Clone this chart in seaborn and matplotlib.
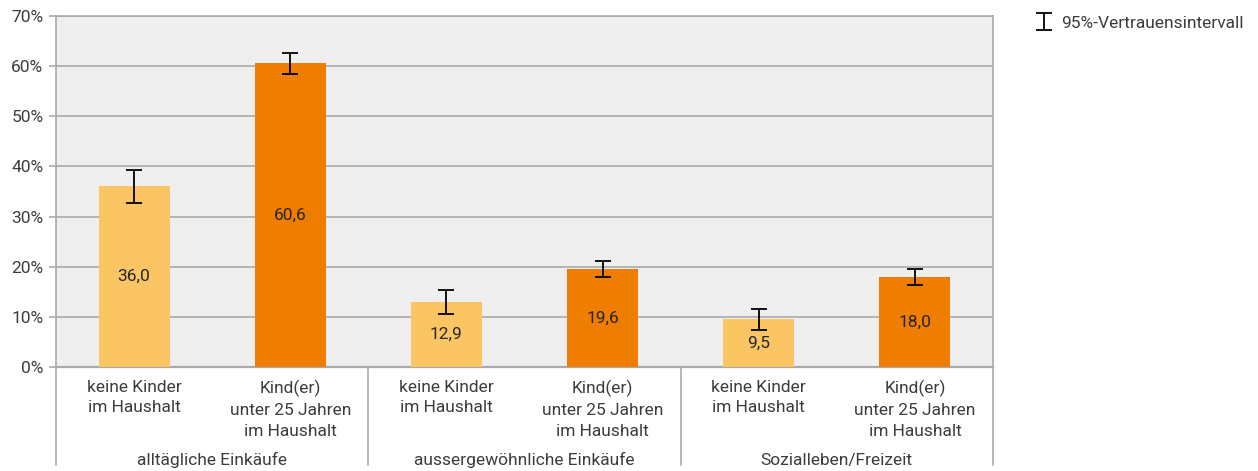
import numpy as np
import pandas as pd
import matplotlib
matplotlib.use("Agg")
import matplotlib.pyplot as plt
import matplotlib.transforms as mtransforms
import seaborn as sns

# ======================================
# DATEN
# ======================================
gruppen = ["alltägliche Einkäufe", "aussergewöhnliche Einkäufe", "Sozialleben/Freizeit"]
haushalt = ["keine Kinder\nim Haushalt", "Kind(er)\nunter 25 Jahren\nim Haushalt"]
werte = [36.0, 60.6, 12.9, 19.6, 9.5, 18.0]
ki_unten = [32.7, 58.5, 10.6, 17.9, 7.4, 16.4]
ki_oben = [39.3, 62.7, 15.4, 21.2, 11.6, 19.6]
farben = ["#FBC564", "#EE7D00"]

df = pd.DataFrame({
    "gruppe": np.repeat(gruppen, 2),
    "haushalt": haushalt * 3,
    "wert": werte,
    "lo": ki_unten,
    "hi": ki_oben,
})
df["key"] = df["gruppe"] + "|" + df["haushalt"]

# ======================================
# GRAFIK
# ======================================
sns.set_style("white")
plt.rcParams["font.family"] = ["Roboto", "DejaVu Sans"]

FS = 12.5
TXT = "#3C3C3C"

fig = plt.figure(figsize=(12.58, 4.71), dpi=100)
ax = fig.add_axes([56 / 1258, 1 - 367 / 471, (993 - 56) / 1258, (367 - 16) / 471])
ax.set_facecolor("#EFEFEF")

sns.barplot(data=df, x="key", y="wert", hue="haushalt", palette=farben,
            dodge=False, width=0.455, ax=ax, legend=False, saturation=1,
            linewidth=0, edgecolor="none", zorder=3)

x = np.arange(len(df))
err = [df["wert"] - df["lo"], df["hi"] - df["wert"]]
eb = ax.errorbar(x, df["wert"], yerr=err, fmt="none", ecolor="black",
                 elinewidth=1.3, capsize=6, capthick=1.3, zorder=4,
                 label="95%-Vertrauensintervall")

for xi, v in zip(x, df["wert"]):
    ax.text(xi, v / 2, f"{v:.1f}".replace(".", ","), ha="center", va="center",
            fontsize=FS, color="#262626", zorder=5)

ax.set_ylim(0, 70)
ax.set_xlim(-0.5, 5.5)
ax.set_yticks(range(0, 71, 10))
ax.set_yticklabels([f"{t}%" for t in range(0, 71, 10)], fontsize=FS, color=TXT)
ax.yaxis.grid(True, color="#AAAAAA", linewidth=1.2, zorder=0)
ax.set_axisbelow(True)
ax.tick_params(axis="y", left=True, length=5, width=1.2, color="#AAAAAA", pad=4)

ax.set_xticks(x)
ax.set_xticklabels(df["haushalt"], fontsize=FS, color=TXT, linespacing=1.5)
ax.tick_params(axis="x", length=0, pad=9)
ax.set_xlabel("")
ax.set_ylabel("")

for s in ax.spines.values():
    s.set_color("#AAAAAA")
    s.set_linewidth(1.2)
ax.spines["bottom"].set_linewidth(1.6)

# Gruppen-Trennlinien und Gruppenbeschriftung
trans = mtransforms.blended_transform_factory(ax.transData, ax.transAxes)
for xs in [-0.5, 1.5, 3.5, 5.5]:
    ax.plot([xs, xs], [0, -0.28], transform=trans, color="#AAAAAA",
            linewidth=1.2, clip_on=False)
for i, g in enumerate(gruppen):
    ax.text(2 * i + 0.5, -0.265, g, transform=trans, ha="center", va="center",
            fontsize=FS, color=TXT)

# Legende
fig.legend(handles=[eb], loc="upper left", bbox_to_anchor=(1018 / 1258, 1.0),
           frameon=False, fontsize=FS, handlelength=1.2, handletextpad=0.4,
           labelcolor=TXT)

fig.savefig("out.png", dpi=100)
